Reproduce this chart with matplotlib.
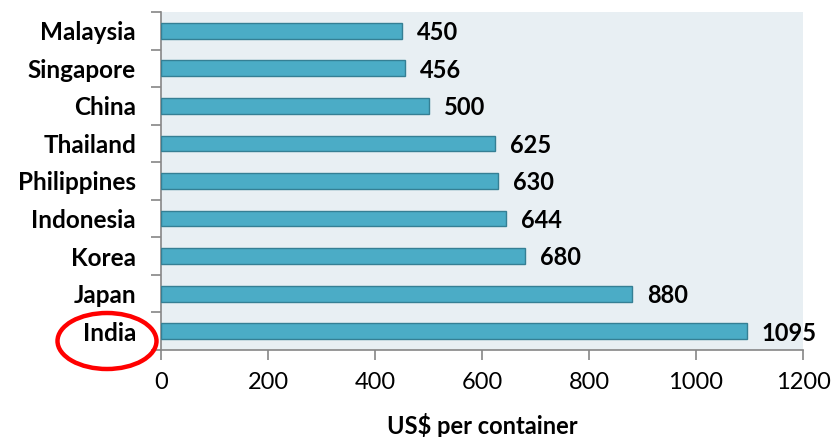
import numpy as np
from matplotlib import pyplot as plt
from matplotlib.patches import Ellipse

countries = ['Malaysia', 'Singapore', 'China', 'Thailand', 'Philippines',
             'Indonesia', 'Korea', 'Japan', 'India']
cost = [450, 456, 500, 625, 630, 644, 680, 880, 1095]
x_ticks = [0, 200, 400, 600, 800, 1000, 1200]

plt.rcParams['font.family'] = ['Lato', 'DejaVu Sans']

fig = plt.figure(figsize=(8.32, 4.37), dpi=100)
ax = fig.add_axes([161 / 832, 87 / 437, 642 / 832, 338 / 437])
ax.set_facecolor('#e8eff3')

y = np.arange(len(countries))
ax.barh(y, cost, height=0.42, color='#4bacc6', edgecolor='#357f94', linewidth=1.0, zorder=3)

for yi, v in zip(y, cost):
    ax.text(v + 28, yi + 0.05, f'{v}', va='center', ha='left', fontsize=17, fontweight='bold')

ax.set_xlim(0, 1200)
ax.set_ylim(len(countries) - 0.5, -0.5)
ax.set_xticks(x_ticks)
ax.set_xticklabels([str(t) for t in x_ticks], fontsize=17)

ax.set_yticks(np.arange(len(countries) + 1) - 0.5)
ax.set_yticklabels([])
ax.set_yticks(y, minor=True)
ax.set_yticklabels(countries, minor=True, fontsize=17.5, fontweight='bold')
ax.tick_params(axis='y', which='minor', length=0, pad=18)
ax.tick_params(axis='y', which='major', length=7, color='#868686', width=1.2)
ax.tick_params(axis='x', length=7, color='#868686', width=1.2, pad=9)

for s in ['top', 'right']:
    ax.spines[s].set_visible(False)
for s in ['left', 'bottom']:
    ax.spines[s].set_color('#868686')
    ax.spines[s].set_linewidth(1.2)

ax.set_xlabel('US$ per container', fontsize=17, fontweight='bold', labelpad=14)

# red circle round India
ell = Ellipse((1.07, 0.96), 0.99, 0.56, transform=fig.dpi_scale_trans,
              fill=False, edgecolor='#ff0000', linewidth=3.2, clip_on=False)
fig.patches.append(ell)

fig.savefig('out.png', dpi=100)
